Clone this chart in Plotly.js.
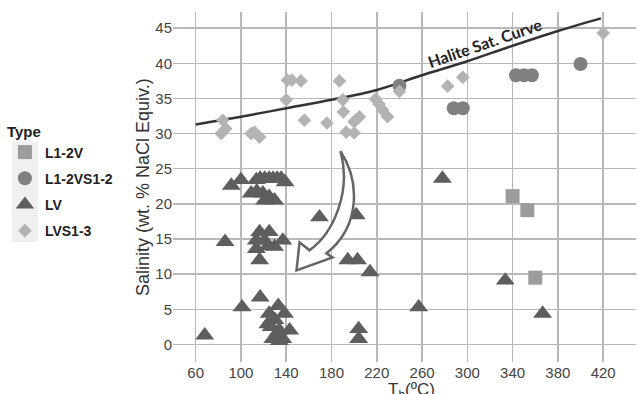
<!DOCTYPE html>
<html>
<head>
<meta charset="utf-8">
<script src="https://cdn.plot.ly/plotly-3.0.1.min.js"></script>
<style>html,body{margin:0;padding:0;background:#fff;}#chart{width:638px;height:394px;}</style>
</head>
<body>
<div id="chart"></div>
<script>
// L1-2V (squares)
const sqT = [340, 353, 360];
const sqS = [21.1, 19.1, 9.5];
// L1-2VS1-2 (circles)
const circT = [240, 288, 296, 343, 350, 357, 400];
const circS = [36.8, 33.6, 33.6, 38.3, 38.3, 38.3, 39.9];
// LV (triangles)
const triT = [91.5, 100, 113.6, 117, 121, 125, 128.4, 132, 135.6, 139, 109, 114, 119.4, 125, 129.7, 121, 124,
              86, 116.5, 125, 113.6, 121, 129.7, 137, 113.6, 116.5, 124,
              68, 101, 117, 125, 133, 138.5, 123.8, 126.7, 132.6, 134, 143, 128.2, 137, 134, 130,
              169.4, 201.8, 194.4, 203, 214, 257, 204, 204, 278, 333.5, 366.5];
const triS = [22.6, 23.4, 23.4, 23.6, 23.6, 23.6, 23.6, 23.6, 23.6, 23.1, 21.5, 21.8, 21.5, 21, 20.5, 20.5, 20.8,
              14.6, 16, 16, 14.8, 14.8, 13.9, 14.8, 13.6, 12, 14,
              1.3, 5.3, 6.7, 4.4, 5.5, 4.4, 2.9, 2.5, 1.75, 2, 2, 0.8, 0.8, 0.5, 3.5,
              18.1, 18.4, 12, 12, 10.3, 5.3, 2.2, 0.8, 23.6, 9.1, 4.4];
// LVS1-3 (diamonds)
const diaT = [84, 86.5, 82.6, 109, 116.5, 112, 141, 145, 153, 140, 156, 176, 187, 190, 190.5, 204.7, 200, 202,
              193, 200, 219, 222, 225, 229.5, 240, 282.6, 296, 420];
const diaS = [31.9, 30.7, 30.0, 30.0, 29.5, 30.2, 37.6, 37.6, 37.5, 34.8, 31.9, 31.5, 37.5, 34.8, 33.1, 32.4, 31.7, 32.0,
              30.2, 30.1, 34.9, 34.2, 33.4, 32.4, 36.0, 36.75, 38.0, 44.3];
// Halite saturation curve
const halT = [60, 100, 140, 180, 220, 260, 300, 340, 380, 418];
const halS = [31.3, 32.4, 33.6, 34.8, 36.2, 38.3, 40.3, 42.5, 44.6, 46.4];
const xTicks = [60, 100, 140, 180, 220, 260, 300, 340, 380, 420];
const yTicks = [0, 5, 10, 15, 20, 25, 30, 35, 40, 45];

const names = ['L1-2V', 'L1-2VS1-2', 'LV', 'LVS1-3'];

const traces = [
  {x: halT, y: halS, mode: 'lines', line: {color: '#333333', width: 2.5, shape: 'spline'}, showlegend: false, hoverinfo: 'skip'},
  {x: sqT, y: sqS, mode: 'markers', name: names[0], legendgroup: 'a',
   marker: {symbol: 'square', size: 14, color: '#9c9c9c', line: {width: 0}}},
  {x: circT, y: circS, mode: 'markers', name: names[1], legendgroup: 'b',
   marker: {symbol: 'circle', size: 14, color: '#808080', line: {width: 0}}},
  {x: triT, y: triS, mode: 'markers', name: names[2], legendgroup: 'c',
   marker: {symbol: 'triangle-up', size: 16.5, color: '#5e5e5e', line: {width: 0}}},
  {x: diaT, y: diaS, mode: 'markers', name: names[3], legendgroup: 'd',
   marker: {symbol: 'diamond', size: 10.5, color: '#b3b3b3', line: {width: 0}}}
];

const layout = {
  width: 638, height: 394,
  margin: {l: 173, r: 2, t: 12, b: 32},
  paper_bgcolor: '#ffffff', plot_bgcolor: '#ffffff',
  font: {family: '"Liberation Sans", Arial, sans-serif', color: '#444'},
  xaxis: {range: [40, 449], tickvals: xTicks, ticktext: xTicks.map(String), showgrid: true,
          gridcolor: '#b8b8b8', gridwidth: 1.5, zeroline: false, showline: false, ticks: '',
          tickfont: {size: 15, color: '#444'}},
  yaxis: {range: [-2.5, 47.3], tickvals: yTicks, ticktext: yTicks.map(String), showgrid: true,
          gridcolor: '#b8b8b8', gridwidth: 1.5, zeroline: false, showline: false, ticks: '',
          tickfont: {size: 15, color: '#444'}},
  legend: {x: -0.363, y: 0.70, xanchor: 'left', yanchor: 'top', traceorder: 'grouped', tracegroupgap: 5,
           bgcolor: 'rgba(0,0,0,0)', font: {size: 14, color: '#222', weight: 'bold'},
           title: {text: '<b>Type</b>', font: {size: 15, color: '#222'}}},
  shapes: [
    {type: 'rect', xref: 'paper', yref: 'paper', x0: -0.3477, x1: -0.2916, y0: 0.343, y1: 0.629,
     fillcolor: '#f0f0f0', line: {width: 0}, layer: 'below'},
    {type: 'path', xref: 'x', yref: 'y',
     path: 'M 187.94,27.49 C 204.7,23.36 206.5,16.95 175.6,12.96 L 180.9,12.39 L 149.1,10.54 L 151.8,14.53 L 160.6,13.39 C 182.6,15.95 197.6,21.94 187.94,27.49 Z',
     fillcolor: '#ffffff', line: {color: '#666666', width: 2.5}}
  ],
  annotations: [
    {x: 316, y: 43.0, xref: 'x', yref: 'y', text: '<b>Halite Sat. Curve</b>', showarrow: false, textangle: -19,
     font: {family: 'Lato, "Open Sans", sans-serif', size: 16, color: '#222'}},
    {x: -0.0648, y: 0.5, xref: 'paper', yref: 'paper', xanchor: 'center', yanchor: 'middle',
     text: 'Salinity (wt. % NaCl Equiv.)', showarrow: false,
     textangle: -90, font: {size: 18, color: '#333'}},
    {x: 0.516, y: -0.045, xref: 'paper', yref: 'paper', xanchor: 'center', yanchor: 'top',
     text: 'T<sub>h</sub>(ºC)', showarrow: false,
     font: {size: 17, color: '#333'}}
  ]
};

Plotly.newPlot('chart', traces, layout, {displayModeBar: false, staticPlot: true});
</script>
</body>
</html>
